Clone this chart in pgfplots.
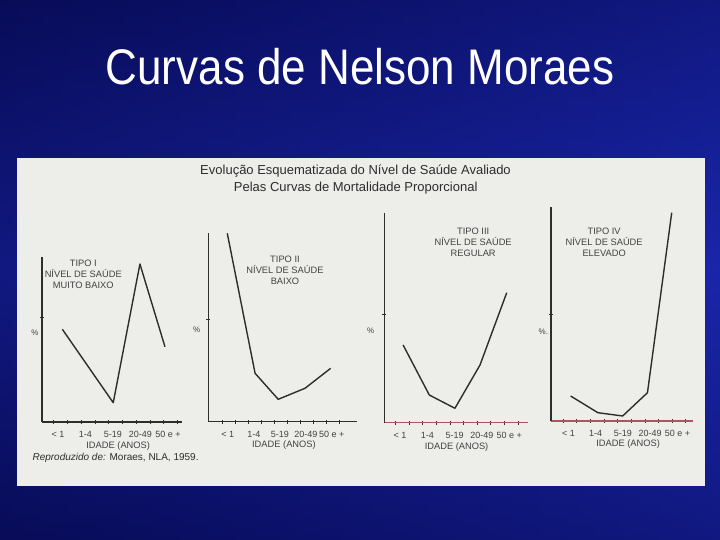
\documentclass[border=0pt]{standalone}
\usepackage{pgfplots}
\pgfplotsset{compat=1.18}
\usepackage{fontspec}
\setmainfont{Liberation Sans}

\definecolor{ink}{RGB}{45,45,45}
\definecolor{txt}{RGB}{65,65,65}
\definecolor{paper}{RGB}{237,237,234}
\definecolor{scanred}{RGB}{170,85,95}
\definecolor{navyA}{RGB}{8,12,88}
\definecolor{navyB}{RGB}{26,38,170}

\pgfplotsset{
  moraes/.style={
    scale only axis,
    anchor=south west,
    axis lines=left,
    axis line style={-, line width=1.3pt, ink},
    ymin=0,
    clip=false,
    xtick={0,1,2,3,4},
    xticklabels={< 1, 1-4, 5-19, 20-49, 50 e +},
    major x tick style={draw=none},
    minor x tick style={line width=1pt, ink},
    ytick style={line width=1pt, ink},
    major tick length=4pt,
    minor tick length=4pt,
    tick align=center,
    yticklabels={},
    xticklabel style={font=\fontsize{9}{11}\selectfont, text=txt, anchor=base, yshift=-13.5pt, inner sep=0pt},
    every axis plot post/.append style={line width=1.4pt, ink, line join=round, mark=none},
  },
}
\tikzset{
  tipo/.style={font=\fontsize{9.3}{11}\selectfont, text=txt, align=center},
  idade/.style={font=\fontsize{9.3}{11}\selectfont, text=txt, anchor=base, inner sep=0pt},
  pct/.style={font=\fontsize{8}{9}\selectfont, text=txt},
}

\begin{document}
\begin{tikzpicture}[x=1pt,y=1pt]
\shade[left color=navyA, right color=navyB] (0,0) rectangle (720,540);
\shade[top color=navyA, bottom color=navyA, middle color=navyB, opacity=0.5] (0,0) rectangle (720,540);

\node[anchor=base, text=white] at (360,455)
  {\scalebox{0.88}[1]{\fontsize{50}{60}\selectfont Curvas de Nelson Moraes}};

\fill[paper] (17,54) rectangle (705,382);

\node[anchor=base, text=ink, font=\fontsize{13}{15}\selectfont] at (355.5,365.3)
  {Evolução Esquematizada do Nível de Saúde Avaliado};
\node[anchor=base, text=ink, font=\fontsize{13}{15}\selectfont] at (355.7,348.6)
  {Pelas Curvas de Mortalidade Proporcional};
\node[anchor=base west, text=ink, font=\fontsize{10}{12}\selectfont] at (29,79)
  {\textit{Reproduzido de:} Moraes, NLA, 1959.};

% Tipo I
\begin{axis}[moraes, at={(42pt,118pt)}, width=140pt, height=165pt,
  xmin=-0.58, xmax=4.51, ymax=165, ytick={104},
  minor xtick={-0.15,0.35,...,4.35}]
\addplot coordinates {(0.16,92.7) (2.01,19.3) (2.98,158) (3.89,75.3)};
\node[tipo] at (axis cs:0.92,148) {TIPO I\\NÍVEL DE SAÚDE\\MUITO BAIXO};
\node[idade] at (axis cs:2.19,-26.5) {IDADE (ANOS)};
\node[pct] at (axis cs:-0.84,89) {\%};
\end{axis}

% Tipo II
\begin{axis}[moraes, at={(208.3pt,118.3pt)}, width=148.4pt, height=188.4pt,
  xmin=-0.75, xmax=4.96, ymax=188.4, ytick={102.4},
  minor xtick={-0.2,0.3,...,4.3}]
\addplot coordinates {(-0.02,188.4) (1.05,48.4) (1.94,22.4) (2.97,33.4) (3.96,53.4)};
\node[tipo] at (axis cs:2.2,151.7) {TIPO II\\NÍVEL DE SAÚDE\\BAIXO};
\node[idade] at (axis cs:2.16,-25.5) {IDADE (ANOS)};
\node[pct] at (axis cs:-1.2,91.7) {\%};
\end{axis}

% Tipo III
\begin{axis}[moraes, at={(384.3pt,117.3pt)}, width=143.7pt, height=210pt,
  xmin=-0.58, xmax=4.69, ymax=210, ytick={107.7},
  minor xtick={-0.17,0.33,...,4.33},
  x axis line style={scanred}]
\addplot coordinates {(0.11,77.7) (1.07,27.7) (2.01,14.4) (2.93,57.7) (3.91,130)};
\node[tipo] at (axis cs:2.68,180) {TIPO III\\NÍVEL DE SAÚDE\\REGULAR};
\node[idade] at (axis cs:2.07,-26.5) {IDADE (ANOS)};
\node[pct] at (axis cs:-1.08,91.7) {\%};
\end{axis}

% Tipo IV
\begin{axis}[moraes, at={(551pt,119pt)}, width=141.7pt, height=213.7pt,
  xmin=-0.64, xmax=4.56, ymax=213.7, ytick={106},
  minor xtick={-0.19,0.31,...,4.31},
  x axis line style={scanred}]
\addplot coordinates {(0.08,25) (1.08,8.3) (1.99,5) (2.90,28.3) (3.79,208.3)};
\node[tipo] at (axis cs:1.31,178.3) {TIPO IV\\NÍVEL DE SAÚDE\\ELEVADO};
\node[idade] at (axis cs:2.19,-25.5) {IDADE (ANOS)};
\node[pct] at (axis cs:-0.92,89.3) {\%.};
\end{axis}

\pgfresetboundingbox
\useasboundingbox (0,0) rectangle (720,540);
\end{tikzpicture}
\end{document}
